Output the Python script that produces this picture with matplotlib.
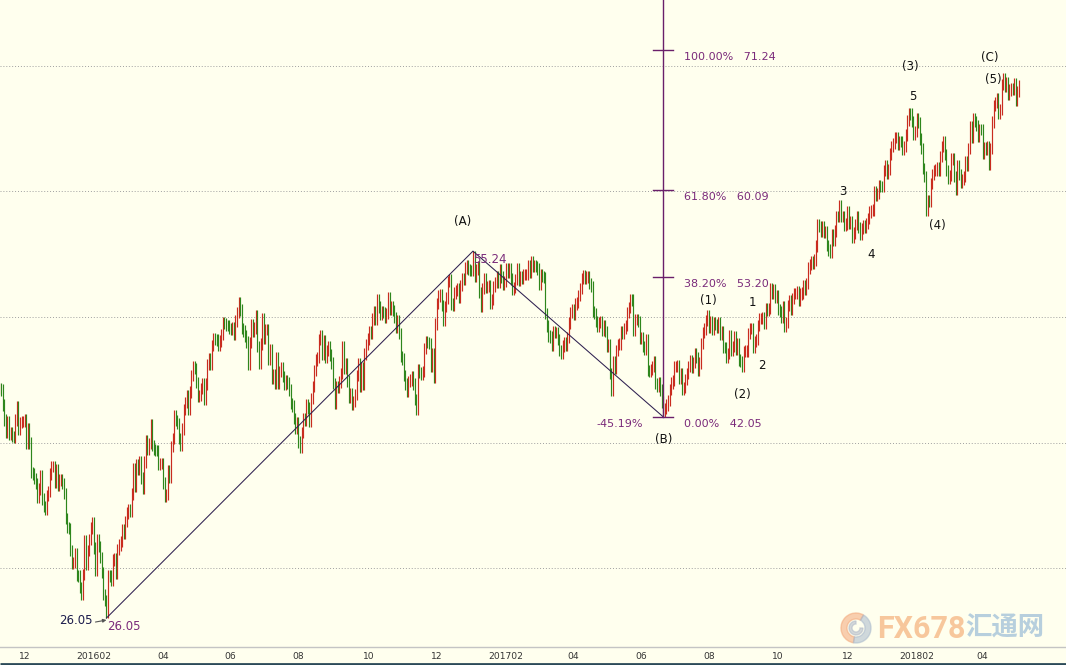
import numpy as np
import pandas as pd
import matplotlib
matplotlib.use("Agg")
import matplotlib.pyplot as plt
from matplotlib.patches import Wedge

# ---------------- data (daily closes) ----------------
c2015_11 = [44.3, 44.2, 43.0, 41.8, 40.8, 41.7, 40.7, 40.8, 40.5, 40.4, 41.8, 42.9, 41.1, 41.6, 41.7, 41.7]
c2015_12 = [41.85, 39.94, 41.08, 39.97, 37.65, 37.51, 37.16, 36.76, 35.62, 36.31, 37.35, 35.52, 34.95,
            34.73, 35.81, 36.14, 37.50, 38.10, 38.1, 36.81, 37.87, 36.60, 37.04]
c2016_01 = [37.04, 36.76, 35.97, 33.97, 33.27, 33.16, 31.41, 30.44, 30.48, 31.20, 29.42, 29.4, 28.46,
            27.9, 29.53, 32.19, 30.34, 31.45, 32.30, 33.22, 33.62]
c2016_02 = [31.62, 29.88, 32.28, 31.72, 30.89, 29.69, 27.94, 27.45, 26.50, 29.44, 29.4, 29.04, 30.66,
            30.77, 29.64, 31.48, 31.87, 32.15, 33.07, 32.78, 33.75]
c2016_03 = [34.40, 34.66, 34.57, 35.92, 37.90, 36.50, 38.29, 37.84, 38.50, 37.18, 36.34, 38.46, 40.20,
            39.44, 39.91, 41.45, 39.79, 39.46, 39.4, 39.39, 38.28, 38.32, 38.34]
c2016_04 = [36.79, 35.70, 35.89, 37.75, 37.26, 39.72, 40.36, 42.17, 41.76, 41.50, 40.36, 39.78, 41.08,
            42.63, 43.18, 43.73, 42.64, 44.04, 45.33, 46.03, 45.92]
c2016_05 = [44.78, 43.65, 43.78, 44.32, 44.66, 43.44, 44.66, 46.23, 46.70, 46.21, 47.72, 48.31, 48.19,
            48.16, 47.75, 48.08, 48.62, 49.56, 49.48, 49.33, 49.3, 49.10]
c2016_06 = [49.01, 49.17, 48.62, 49.69, 50.36, 51.13, 50.56, 49.07, 48.88, 48.49, 48.01, 46.21, 47.98,
            49.37, 48.85, 49.13, 50.11, 47.64, 46.33, 47.85, 49.88, 48.33]
c2016_07 = [48.99, 49.0, 46.60, 47.43, 45.14, 45.41, 44.76, 46.80, 44.75, 45.68, 45.95, 45.24, 44.65,
            44.94, 44.75, 44.19, 43.13, 42.92, 41.92, 41.14, 41.60]
c2016_08 = [40.06, 39.61, 40.83, 41.93, 41.80, 43.02, 42.77, 41.71, 43.49, 44.49, 45.74, 46.58, 46.79,
            48.22, 48.52, 47.05, 48.10, 46.77, 47.33, 47.64, 46.98, 46.35, 44.70]
c2016_09 = [43.16, 44.44, 44.4, 44.83, 45.50, 47.62, 45.88, 46.29, 44.90, 43.58, 43.91, 43.03, 43.30,
            43.85, 45.34, 46.32, 44.48, 45.93, 44.67, 47.05, 47.83, 48.24]
c2016_10 = [48.81, 48.69, 49.83, 50.44, 49.81, 51.35, 50.79, 50.18, 50.44, 50.35, 49.94, 50.29, 51.50,
            50.63, 50.85, 50.52, 49.96, 49.18, 49.72, 48.70, 46.86]
c2016_11 = [46.67, 45.34, 44.66, 44.07, 44.89, 44.98, 45.27, 44.66, 43.41, 42.65, 45.81, 45.57, 45.42,
            45.69, 47.49, 48.03, 47.96, 47.9, 46.06, 47.08, 45.23, 49.44]
c2016_12 = [51.06, 51.68, 51.79, 50.93, 49.77, 50.84, 51.50, 52.83, 52.98, 51.04, 50.90, 51.90, 52.12,
            52.23, 51.53, 52.49, 53.02, 53.0, 53.90, 54.06, 53.77, 53.72]
c2017_01 = [53.7, 54.8, 53.26, 53.76, 53.99, 51.96, 50.82, 52.25, 53.01, 52.37, 52.4, 52.48, 51.08,
            51.37, 52.42, 52.75, 53.18, 52.75, 53.78, 53.17, 52.63, 52.81]
c2017_02 = [53.88, 53.54, 53.83, 53.01, 52.17, 52.34, 53.00, 53.86, 52.93, 53.20, 53.11, 53.36, 53.40,
            53.4, 54.06, 53.59, 54.40, 53.99, 54.05, 54.01]
c2017_03 = [53.83, 52.61, 53.33, 53.20, 53.14, 50.28, 49.28, 48.49, 48.40, 47.72, 48.86, 48.75, 48.78,
            48.22, 47.34, 47.14, 47.70, 47.97, 47.73, 48.37, 49.51, 50.35, 50.60]
c2017_04 = [50.24, 51.03, 51.15, 51.70, 52.24, 53.08, 53.30, 53.11, 53.18, 53.2, 52.65, 52.41, 50.44,
            50.27, 49.62, 49.23, 49.56, 49.62, 48.97, 49.33]
c2017_05 = [48.84, 47.66, 47.82, 45.52, 44.20, 46.43, 45.88, 47.33, 47.83, 47.84, 48.85, 48.66, 49.07,
            49.35, 50.33, 50.73, 51.37, 51.36, 48.90, 49.80, 49.8, 49.66, 48.32]
c2017_06 = [48.36, 47.66, 47.40, 48.19, 45.72, 45.64, 45.83, 46.08, 46.46, 44.73, 44.46, 44.74, 44.20,
            43.23, 42.50, 42.74, 43.01, 43.38, 44.24, 44.74, 44.93, 46.04]
c2017_07 = [46.07, 46.1, 45.13, 45.52, 44.23, 44.40, 45.04, 45.49, 46.08, 46.54, 46.02, 46.40, 47.12,
            46.79, 45.77, 46.34, 47.89, 48.75, 49.04, 49.71, 50.07]
c2017_08 = [49.16, 49.59, 49.03, 49.58, 49.39, 49.17, 49.56, 48.59, 48.82, 47.59, 47.55, 46.78, 47.09,
            48.51, 47.37, 47.64, 48.41, 47.43, 47.87, 46.57, 46.44, 46.06, 47.23]
c2017_09 = [47.29, 47.3, 48.66, 49.06, 49.09, 47.58, 48.07, 48.23, 49.30, 49.89, 49.89, 49.91, 49.48,
            50.69, 50.55, 50.66, 52.22, 51.88, 52.14, 51.56, 51.67]
c2017_10 = [50.58, 50.42, 49.98, 50.79, 49.29, 49.58, 50.92, 51.30, 50.60, 51.45, 51.87, 51.88, 52.04,
            51.29, 51.84, 51.90, 52.47, 52.18, 52.64, 53.90, 54.15, 54.38]
c2017_11 = [54.30, 54.54, 55.64, 57.35, 57.20, 56.81, 57.17, 56.74, 56.76, 55.70, 55.33, 55.14, 56.55,
            56.09, 56.83, 58.02, 58.0, 58.85, 57.99, 57.99, 57.30, 57.40]
c2017_12 = [58.36, 57.47, 57.62, 56.30, 56.69, 57.36, 57.99, 57.14, 56.55, 57.04, 57.30, 57.16, 57.46,
            57.86, 58.36, 58.47, 58.5, 59.97, 59.64, 59.84, 60.42]
c2018_01 = [60.4, 60.37, 61.63, 62.01, 61.44, 61.73, 62.96, 63.57, 63.80, 64.30, 64.3, 63.73, 63.97,
            63.95, 63.37, 63.57, 64.47, 65.61, 66.2, 66.14, 65.56, 64.50, 64.73]
c2018_02 = [65.80, 65.45, 64.15, 63.39, 61.79, 61.15, 58.52, 59.29, 59.19, 60.60, 61.34, 61.68, 61.7,
            61.90, 61.68, 62.77, 63.55, 63.91, 62.91, 61.64]
c2018_03 = [60.99, 61.25, 62.57, 62.60, 61.15, 60.12, 62.04, 61.36, 60.71, 60.96, 61.19, 62.34, 62.06,
            63.40, 65.17, 64.30, 65.78, 65.55, 65.25, 64.38, 64.94, 64.9]
c2018_04 = [63.01, 63.51, 63.37, 63.54, 62.16, 63.42, 65.51, 66.82, 67.07, 67.39, 66.22, 66.52, 68.47,
            69.0, 68.38, 68.64, 67.70, 68.05, 68.19, 68.10, 68.57]
c2018_05 = [67.25, 67.93, 68.43]

first_day = "2015-11-09"

# Elliott / Fibonacci pivots
start_date, start_price = "2016-02-11", 26.05
a_date, a_price = "2017-01-03", 55.24
b_date, b_price = "2017-06-21", 42.05
fib_levels = [0.0, 0.382, 0.618, 1.0]

wave_labels = ["(A)", "(1)", "1", "2", "(2)", "3", "4", "(3)", "5", "(4)", "(C)", "(5)"]
wave_dates = ["2017-01-03", "2017-08-01", "2017-09-06", "2017-09-08", "2017-08-30", "2017-11-24",
              "2017-12-13", "2018-01-25", "2018-01-25", "2018-02-09", "2018-04-19", "2018-04-19"]
wave_prices = [55.24, 50.4, 49.5, 47.13, 45.61, 59.3, 56.1, 66.65, 66.65, 58.07, 69.45, 69.45]

# ---------------- styles ----------------
BG = "#FFFFEE"
RED = "#c92c1f"
GREEN = "#2e861c"
PURPLE = "#7a2a7a"
FIBLINE = "#6a1f6a"
WICK = 0.45
wave_offsets = [(-10, 30), (-1, 11), (3, 21), (9, -12), (0, -22), (3, 9),
                (11, -14), (2, 41), (4, 11), (11, -10), (-13, 15), (-10, -7)]

closes = np.array(c2015_11 + c2015_12 + c2016_01 + c2016_02 + c2016_03 + c2016_04 + c2016_05 +
                  c2016_06 + c2016_07 + c2016_08 + c2016_09 + c2016_10 + c2016_11 + c2016_12 +
                  c2017_01 + c2017_02 + c2017_03 + c2017_04 + c2017_05 + c2017_06 + c2017_07 +
                  c2017_08 + c2017_09 + c2017_10 + c2017_11 + c2017_12 + c2018_01 + c2018_02 +
                  c2018_03 + c2018_04 + c2018_05)
dates = pd.bdate_range(first_day, periods=len(closes))
idx = np.arange(len(closes))
opens = np.r_[closes[0], closes[:-1]]
lows = np.minimum(opens, closes) - WICK
highs = np.maximum(opens, closes) + WICK
cols = np.where(closes >= opens, RED, GREEN)


def pos(d):
    return dates.get_indexer([pd.Timestamp(d)])[0]


W, H = 1066, 665
fig = plt.figure(figsize=(W / 100, H / 100), dpi=100, facecolor=BG)
ax = fig.add_axes([0, 18 / H, 1, 647 / H], facecolor=BG)

px_per_bar = 1.573
span = W / px_per_bar
x0 = 0.5 / px_per_bar
ax.set_xlim(x0, x0 + span)
ppu = 12.57
ax.set_ylim(71.24 - 597 / ppu, 71.24 + 50 / ppu)

# gridlines
ax.set_yticks([30, 40, 50, 60, 70])
ax.yaxis.grid(True, linestyle=(0, (1, 2)), color="#a0a0a0", linewidth=0.7)
ax.set_axisbelow(True)
ax.tick_params(axis="y", left=False, labelleft=False)

# month ticks
mt_pos, mt_lab = [], []
prev = None
for i, d in enumerate(dates):
    key = (d.year, d.month)
    if key != prev:
        if d.month % 2 == 0:
            mt_pos.append(i)
            mt_lab.append(f"{d.year}{d.month:02d}" if d.month == 2 else f"{d.month:02d}")
        prev = key
ax.set_xticks(mt_pos)
ax.set_xticklabels(mt_lab, fontsize=6.6, color="#333333", family="DejaVu Sans")
ax.tick_params(axis="x", length=0, pad=3.5)
for s in ["top", "left", "right"]:
    ax.spines[s].set_visible(False)
ax.spines["bottom"].set_color("#c4c4c4")
ax.spines["bottom"].set_linewidth(1.0)

# bars
ax.vlines(idx, lows, highs, colors=cols, linewidth=0.85, zorder=2)

# ABC zigzag
si, ai, bi = pos(start_date), pos(a_date), pos(b_date)
ax.plot([si, ai, bi], [start_price, a_price, b_price], color="#2e2050", lw=0.75, zorder=3)

# fibonacci projection from B
top = ax.get_ylim()[1]
ax.plot([bi, bi], [b_price, top], color=FIBLINE, lw=1.0, zorder=4, clip_on=False)
rng = a_price - start_price
half = 10 / px_per_bar
for lv in fib_levels:
    p = b_price + lv * rng
    ax.plot([bi - half, bi + half], [p, p], color=FIBLINE, lw=1.0, zorder=4)
    ax.annotate(f"{lv * 100:.2f}%   {p:.2f}", xy=(bi, p), xytext=(21, -2),
                textcoords="offset pixels", ha="left", va="top", fontsize=8,
                color=PURPLE, zorder=5)
retr = (a_price - b_price) / rng * 100
ax.annotate(f"-{retr:.2f}%", xy=(bi, b_price), xytext=(-20, -2), textcoords="offset pixels",
            ha="right", va="top", fontsize=8, color=PURPLE)
ax.annotate("(B)", xy=(bi, b_price), xytext=(0, -23), textcoords="offset pixels",
            ha="center", va="center", fontsize=8.5, color="#111111")

# price tags
ax.annotate(f"{a_price:.2f}", xy=(ai, a_price), xytext=(0, -8), textcoords="offset pixels",
            ha="left", va="center", fontsize=8.5, color=PURPLE)
ax.annotate(f"{start_price:.2f}", xy=(si, start_price), xytext=(1, -8), textcoords="offset pixels",
            ha="left", va="center", fontsize=8.5, color=PURPLE)
ax.annotate(f"{start_price:.2f}", xy=(si, start_price), xytext=(-14, -2), textcoords="offset pixels",
            ha="right", va="center", fontsize=8.5, color="#1c1c4c")
ax.annotate("", xy=(si, start_price - 2 / ppu), xytext=(-11, -2), textcoords="offset pixels",
            arrowprops=dict(arrowstyle="-|>", color="#555555", lw=0.8, mutation_scale=5,
                            shrinkA=0, shrinkB=0))

# Elliott wave labels
for lab, d, p, (dx, dy) in zip(wave_labels, wave_dates, wave_prices, wave_offsets):
    ax.annotate(lab, xy=(pos(d), p), xytext=(dx, dy), textcoords="offset pixels",
                ha="center", va="center", fontsize=8.5, color="#111111", zorder=6)

# overlay in pixel coordinates: watermark + bottom border
wax = fig.add_axes([0, 0, 1, 1], facecolor="none")
wax.set_xlim(0, W)
wax.set_ylim(H, 0)
wax.axis("off")
wax.add_patch(Wedge((856, 628), 15, 100, 300, width=6, color="#f3a77a", alpha=0.55))
wax.add_patch(Wedge((856, 628), 15, 300, 460, width=6, color="#a9b9cc", alpha=0.55))
wax.add_patch(Wedge((856, 628), 7, 0, 270, width=3, color="#b0b8c8", alpha=0.55))
wax.text(921, 629, "FX678", fontsize=22, fontweight="bold", family="Roboto",
         color="#f5b07a", alpha=0.7, ha="center", va="center")
wax.text(1005, 628, "汇通网", fontsize=19, fontweight="bold",
         family=["Noto Sans CJK SC", "DejaVu Sans"], color="#9fbfd8", alpha=0.75,
         ha="center", va="center")
wax.plot([0, W], [664, 664], color="#2b4a58", lw=2.0, solid_capstyle="butt")

fig.savefig("out.png", dpi=100, facecolor=BG)
